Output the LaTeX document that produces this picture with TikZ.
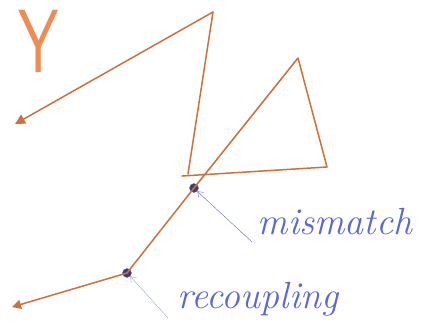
\documentclass[tikz,border=0pt]{standalone}
\usepackage{tikz}
\usetikzlibrary{arrows.meta}
\definecolor{ray}{RGB}{204,112,62}
\definecolor{rayY}{RGB}{238,140,84}
\definecolor{pen}{RGB}{92,104,204}
\definecolor{penlight}{RGB}{150,160,215}
\definecolor{dotc}{RGB}{60,60,120}
\begin{document}
\begin{tikzpicture}[x=1bp, y=-1bp,
    beam/.style={ray, line width=1.5bp, line join=round, line cap=round},
    joint/.style={circle, fill=dotc, draw=pen, inner sep=0pt, minimum size=9bp},
    note/.style={text=pen, font=\itshape\fontsize{38}{40}\selectfont, inner sep=0pt},
    pointer/.style={pen, thin, -{Straight Barb[length=5bp, width=7bp]}}]
        \useasboundingbox (0,0) rectangle (424,327);
        \node[text=rayY, font=\sffamily\fontsize{90}{90}\selectfont, xscale=0.72, inner sep=0pt, anchor=north] (ylab) at (39,10) {Y};
        \coordinate (tipL) at (15,124);
        \coordinate (apex) at (213,12);
        \coordinate (kneeA) at (188,174);
        \coordinate (baseL) at (182,176);
        \coordinate (triR) at (327,167);
        \coordinate (triT) at (298,58);
        \coordinate (tipB) at (12,307);
        \node[joint] (mis) at (194,188) {};
        \node[joint] (rec) at (127,273) {};
        \draw[beam, -{Triangle[length=10bp, width=10bp]}] (apex) -- (tipL);
        \draw[beam] (apex) -- (kneeA);
        \draw[beam] (baseL) -- (triR) -- (triT) -- (mis.center) -- (rec.center);
        \draw[beam, -{Triangle[length=9bp, width=9bp]}] (rec.center) -- (tipB);
        \node[note] (mislab) at (335,222) {mismatch};
        \node[note] (reclab) at (258,299) {recoupling};
        \coordinate (misfoot) at (252,242);
        \coordinate (recfoot) at (168,318);
        \draw[pointer] (misfoot) -- (mis.south east);
        \draw[pointer, penlight] (recfoot) -- (rec.south east);
      \end{tikzpicture}
\end{document}
